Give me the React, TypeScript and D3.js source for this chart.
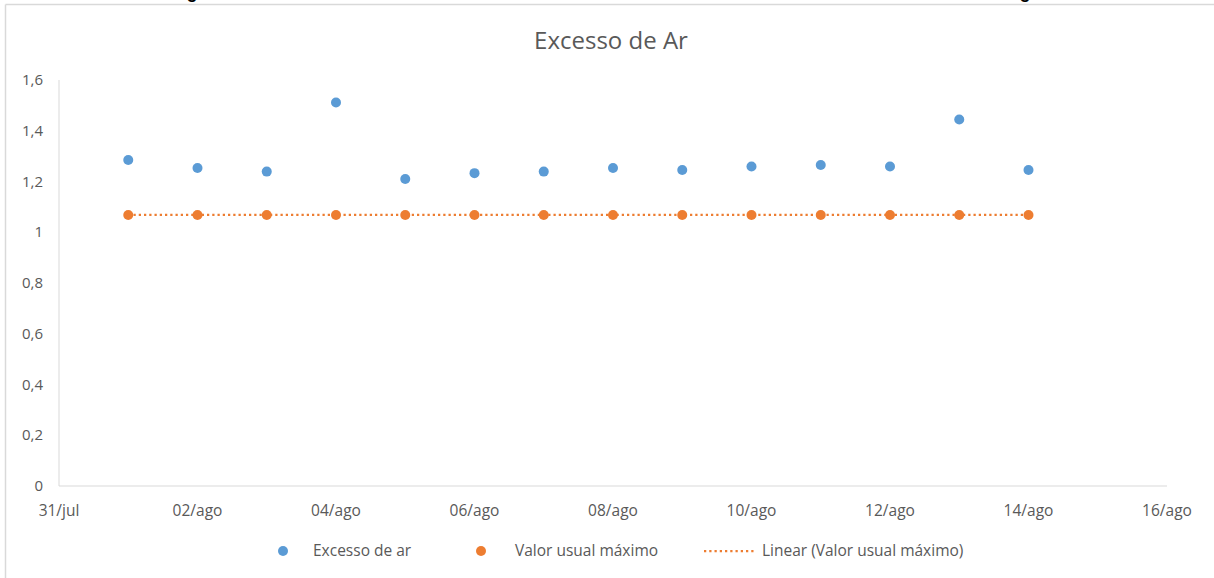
import React from "react";
import * as d3 from "d3";

const dates: string[] = [
  "2023-08-01", "2023-08-02", "2023-08-03", "2023-08-04", "2023-08-05", "2023-08-06", "2023-08-07",
  "2023-08-08", "2023-08-09", "2023-08-10", "2023-08-11", "2023-08-12", "2023-08-13", "2023-08-14",
];
const excessoDeAr: number[] = [1.285, 1.253, 1.239, 1.511, 1.21, 1.233, 1.239, 1.253, 1.245, 1.259, 1.265, 1.259, 1.444, 1.245];
const valorUsualMaximo: number[] = [1.068, 1.068, 1.068, 1.068, 1.068, 1.068, 1.068, 1.068, 1.068, 1.068, 1.068, 1.068, 1.068, 1.068];
const yTicks: number[] = [0, 0.2, 0.4, 0.6, 0.8, 1, 1.2, 1.4, 1.6];
const xTickDates: string[] = ["2023-07-31", "2023-08-02", "2023-08-04", "2023-08-06", "2023-08-08", "2023-08-10", "2023-08-12", "2023-08-14", "2023-08-16"];
const monthNames: string[] = ["jan", "fev", "mar", "abr", "mai", "jun", "jul", "ago", "set", "out", "nov", "dez"];

const W = 1214;
const H = 578;
const BLUE = "#5b9bd5";
const ORANGE = "#ed7d31";
const TEXT = "#595959";
const AXIS = "#d9d9d9";
const FONT = "'Open Sans', 'Noto Sans', sans-serif";

const parse = (s: string) => {
  const [y, m, d] = s.split("-").map(Number);
  return new Date(y, m - 1, d);
};
const fmt = (d: Date) => `${String(d.getDate()).padStart(2, "0")}/${monthNames[d.getMonth()]}`;
const fmtNum = (v: number) => (v === 0 || v === 1 ? String(v) : v.toFixed(1).replace(".", ","));

export default function App() {
  const x = d3.scaleTime().domain([parse("2023-07-31"), parse("2023-08-16")]).range([59, 1167]);
  const y = d3.scaleLinear().domain([0, 1.6]).range([486, 80]);
  const pts = dates.map((d, i) => ({ d: parse(d), a: excessoDeAr[i], b: valorUsualMaximo[i] }));
  const line = d3.line<{ d: Date; b: number }>().x((p) => x(p.d)).y((p) => y(p.b));

  return (
    <svg width={W} height={H} style={{ position: "absolute", left: 0, top: 0, background: "#fff" }} fontFamily={FONT}>
      <rect x={0} y={0} width={W} height={H} fill="#fff" />
      {/* cut-off caption descenders above chart */}
      <text x={192} y={-2} textAnchor="middle" fontFamily="'Liberation Sans', Arial, sans-serif" fontWeight="bold" fontSize={18} fill="#000">g</text>
      <text x={1025} y={-2} textAnchor="middle" fontFamily="'Liberation Sans', Arial, sans-serif" fontWeight="bold" fontSize={18} fill="#000">g</text>
      {/* chart border */}
      <line x1={5.5} y1={4.5} x2={W} y2={4.5} stroke={AXIS} strokeWidth={1.5} />
      <line x1={5.5} y1={4.5} x2={5.5} y2={H} stroke={AXIS} strokeWidth={1.5} />

      <text x={611} y={49} textAnchor="middle" fontSize={24} fill={TEXT}>Excesso de Ar</text>

      {/* axes */}
      <line x1={59} y1={y(1.6)} x2={59} y2={y(0)} stroke={AXIS} strokeWidth={1} />
      <line x1={59} y1={y(0)} x2={1167} y2={y(0)} stroke={AXIS} strokeWidth={1} />
      {yTicks.map((t) => (
        <text key={t} x={43} y={y(t) + 5} textAnchor="end" fontSize={15} fill={TEXT}>{fmtNum(t)}</text>
      ))}
      {xTickDates.map((t) => (
        <text key={t} x={x(parse(t))} y={516} textAnchor="middle" fontSize={15.5} fill={TEXT}>{fmt(parse(t))}</text>
      ))}

      {/* trend line */}
      <path d={line(pts) || ""} fill="none" stroke={ORANGE} strokeWidth={2.25} strokeDasharray="2.25 3" />
      {pts.map((p, i) => (
        <circle key={"b" + i} cx={x(p.d)} cy={y(p.b)} r={5} fill={ORANGE} />
      ))}
      {pts.map((p, i) => (
        <circle key={"a" + i} cx={x(p.d)} cy={y(p.a)} r={5} fill={BLUE} />
      ))}

      {/* legend */}
      <circle cx={283} cy={551} r={5} fill={BLUE} />
      <text x={313} y={556} fontSize={15.5} fill={TEXT}>Excesso de ar</text>
      <circle cx={481} cy={551} r={5} fill={ORANGE} />
      <text x={515} y={556} fontSize={15.5} fill={TEXT}>Valor usual máximo</text>
      <line x1={704} y1={551} x2={756} y2={551} stroke={ORANGE} strokeWidth={2.25} strokeDasharray="2.25 3" />
      <text x={762} y={556} fontSize={15.5} fill={TEXT}>Linear (Valor usual máximo)</text>
    </svg>
  );
}
